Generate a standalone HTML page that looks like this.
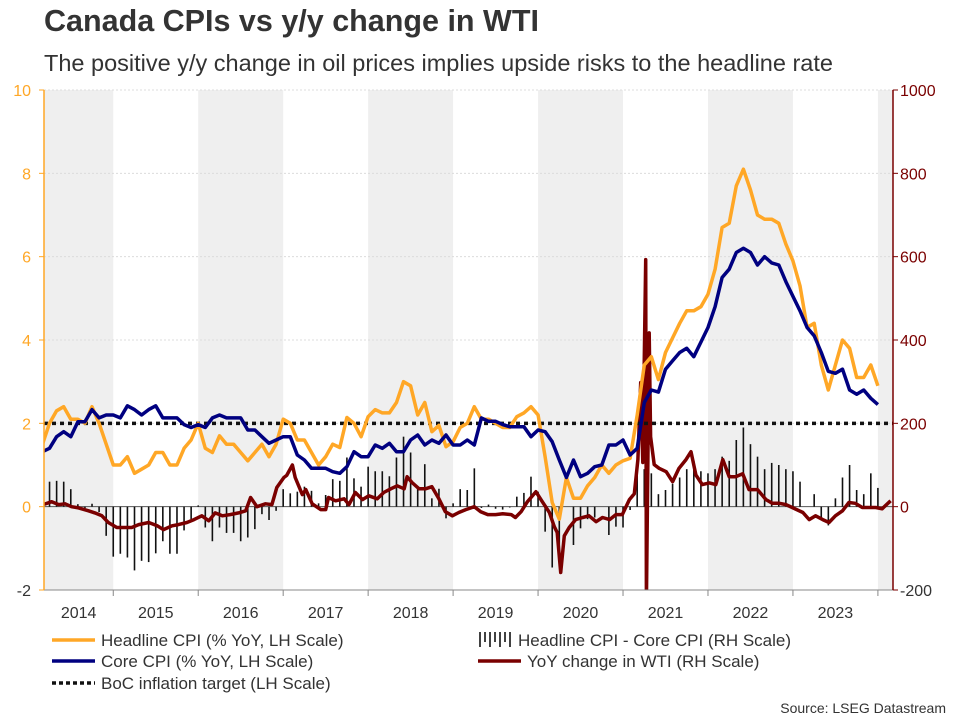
<!DOCTYPE html>
<html><head><meta charset="utf-8"><style>
body{margin:0;background:#fff;font-family:"Liberation Sans",sans-serif}
#wrap{position:relative;width:960px;height:720px;overflow:hidden}
.t{position:absolute;white-space:nowrap}
</style></head><body>
<div id="wrap">
<div class="t" style="left:44px;top:4px;font-size:30.5px;font-weight:bold;color:#333">Canada CPIs vs y/y change in WTI</div>
<div class="t" style="left:44px;top:50px;font-size:23.5px;color:#333">The positive y/y change in oil prices implies upside risks to the headline rate</div>
<svg id="chart" width="960" height="720" style="position:absolute;left:0;top:0"></svg>
<div class="t" style="right:14px;top:700px;font-size:14px;color:#333">Source: LSEG Datastream</div>
</div>
<script>
const years=["2014","2015","2016","2017","2018","2019","2020","2021","2022","2023"];
const leftTicks=[-2,0,2,4,6,8,10];
const rightTicks=[-200,0,200,400,600,800,1000];
const startMonth=2;
const headline=[1.5,2.0,2.3,2.4,2.1,2.1,2.0,2.4,2.0,1.5,
1.0,1.0,1.2,0.8,0.9,1.0,1.3,1.3,1.0,1.0,1.4,1.6,
2.0,1.4,1.3,1.7,1.5,1.5,1.3,1.1,1.3,1.5,1.2,1.5,
2.1,2.0,1.6,1.6,1.3,1.0,
1.2,1.5,1.42,2.14,2.0,1.68,2.16,2.33,2.25,2.25,2.5,3.0,2.9,2.2,2.5,1.8,1.95,1.44,1.56,1.9,2.0,2.4,2.1,2.1,2.0,1.9,1.9,2.16,2.25,2.4,2.2,1.2,0.1,-0.3,0.7,0.2,0.2,0.5,0.7,1.0,0.8,1.0,1.1,
1.16,2.2,3.4,3.6,3.05,3.7,4.05,4.4,4.7,4.7,4.8,5.1,5.7,6.7,6.8,7.7,8.1,7.6,7.0,6.9,6.9,6.8,6.3,5.9,5.3,4.3,4.4,3.4,2.8,3.4,4.0,3.8,3.1,3.1,3.4,2.9];
const core=[1.32,1.4,1.68,1.8,1.68,2.04,2.04,2.33,2.13,2.2,2.2,2.13,2.42,2.33,2.2,2.33,2.42,2.13,2.13,2.13,1.97,1.9,1.97,1.9,2.13,2.2,2.13,2.13,2.13,1.84,1.84,1.68,1.52,1.6,1.68,1.68,1.24,1.12,0.92,0.92,0.92,0.84,
0.8,0.96,1.32,1.2,1.2,1.48,1.4,1.52,1.32,1.32,1.6,1.72,1.48,1.6,1.52,1.72,1.48,1.48,1.6,1.48,2.13,2.05,2.05,1.97,1.92,1.92,1.92,1.68,1.84,1.8,1.56,1.12,0.7,1.12,0.72,0.8,0.96,1.0,1.48,1.48,1.6,
1.24,1.4,2.5,2.8,2.75,3.3,3.5,3.7,3.8,3.6,3.95,4.3,4.8,5.5,5.7,6.1,6.2,6.1,5.8,6.0,5.85,5.8,5.4,5.05,4.7,4.3,4.1,3.7,3.25,3.2,3.3,2.8,2.7,2.8,2.6,2.45];
const target=2;
const wtiMonth=[2.1,3.3,4.3,5.2,6.1,7.1,8.5,9.4,10.4,11.3,12.5,13.7,14.6,15.6,17.0,18.2,19.1,20.3,21.2,22.4,23.4,24.5,25.5,26.4,27.4,28.5,29.7,30.7,31.4,32.3,33.5,34.4,35.1,36.1,36.5,37.3,37.7,38.7,39.2,40.1,41.3,42.0,
42.4,43.4,44.6,45.3,46.2,47.2,48.1,49.3,50.2,51.2,52.1,53.1,53.5,54.2,55.2,56.1,57.0,58.0,58.9,59.9,60.8,61.8,63.0,63.9,64.9,66.0,67.0,68.2,68.8,69.6,70.5,71.7,72.6,73.6,74.3,74.7,75.2,75.7,76.4,77.3,78.3,79.2,80.2,81.1,82.1,83.0,83.9,84.9,
85.6,86.1,86.5,86.8,87.2,87.3,87.7,87.9,88.4,89.1,90.1,91.0,91.9,92.9,93.6,94.3,95.2,96.2,97.1,98.1,99.0,99.9,100.9,101.8,103.0,104.2,105.1,106.1,107.0,107.9,109.4,110.3,111.2,112.2,113.1,114.0,115.0,115.9,116.8,117.8,118.7,119.7,120.6,121.8];
const wtiValue=[5,12,5,7,0,-3,-10,-15,-22,-38,-50,-50,-50,-43,-38,-46,-55,-46,-43,-38,-31,-22,-34,-15,-22,-19,-15,-10,22,0,7,5,46,70,75,100,70,29,41,7,-7,-7,
22,14,19,5,34,17,26,19,34,43,50,43,72,58,43,43,48,19,-12,-22,-14,-7,0,-12,-19,-19,-17,-19,-26,-12,12,36,12,-14,-48,-62,-158,-70,-50,-31,-26,-22,-36,-26,-31,-19,-19,17,
31,113,298,106,593,-230,417,168,101,92,84,60,92,113,132,76,53,57,53,113,72,72,79,41,41,17,8,8,5,-2,-14,-31,-22,-31,-38,-22,-10,10,8,-2,-2,-2,-5,14];

const NS="http://www.w3.org/2000/svg";
const svg=document.getElementById('chart');
const PL=44,PR=893,PT=90,PB=590,X0=28.3,DX=7.08;
const xM=i=>X0+i*DX;
const yL=v=>PB-(v+2)/12*(PB-PT);
const yR=v=>PB-(v+200)/1200*(PB-PT);
function mk(tag,attrs,parent){const e=document.createElementNS(NS,tag);for(const k in attrs)e.setAttribute(k,attrs[k]);(parent||svg).appendChild(e);return e;}
const defs=mk('defs',{});
const cp=mk('clipPath',{id:'plotclip'},defs);
mk('rect',{x:PL,y:PT,width:PR-PL,height:PB-PT},cp);
years.concat(["2024"]).forEach((y,k)=>{
 if(k%2===0){const x1=Math.max(PL,xM(k*12)),x2=Math.min(PR,xM(k*12+12));
  const r=mk('rect',{x:x1,y:PT,width:x2-x1,height:PB-PT,fill:'#efefef'});
  
  }
});
leftTicks.forEach(v=>{if(v===-2)return;
 const g=mk('line',{x1:PL,x2:PR,y1:yL(v),y2:yL(v),stroke:v===0?'#555':'#dcdcdc','stroke-width':1,'stroke-dasharray':v===0?'':'2,2'});
 
 
});
const plot=mk('g',{'clip-path':'url(#plotclip)'});


headline.forEach((h,k)=>{const d=h-core[k];const x=xM(startMonth+k);
 const b=mk('line',{x1:x,x2:x,y1:yL(0),y2:yL(d),stroke:'#111','stroke-width':1.6},plot);
 
 
});
function path(xs,ys,color,w,name,parent){
 const d=xs.map((x,k)=>(k?'L':'M')+x.toFixed(1)+' '+ys[k].toFixed(1)).join('');
 const p=mk('path',{d:d,fill:'none',stroke:color,'stroke-width':w,'stroke-linejoin':'round'},parent);
 
 
 return p;}
path(wtiMonth.map(xM),wtiValue.map(yR),'#7a0000',3.5,'wti-line',plot);
const tl=mk('line',{x1:PL,x2:PR,y1:yL(target),y2:yL(target),stroke:'#111','stroke-width':3.5,'stroke-dasharray':'4,4'},plot);


path(headline.map((v,k)=>xM(startMonth+k)),headline.map(yL),'#ffa726',3.5,'headline-cpi-line',plot);
path(core.map((v,k)=>xM(startMonth+k)),core.map(yL),'#000080',3.5,'core-cpi-line',plot);
const ax=mk('line',{x1:PL,x2:PR,y1:PB,y2:PB,stroke:'#888','stroke-width':1});


const la=mk('line',{x1:PL,x2:PL,y1:PT,y2:PB,stroke:'#ffa726','stroke-width':1.5});


const ra=mk('line',{x1:PR,x2:PR,y1:PT,y2:PB,stroke:'#7a0000','stroke-width':1.5});


leftTicks.forEach(v=>{
 mk('line',{x1:PL-5,x2:PL,y1:yL(v),y2:yL(v),stroke:'#ffa726'});
 const t=mk('text',{x:31,y:yL(v)+6,'text-anchor':'end','font-size':16,fill:v===-2?'#333':'#ffa726'});
 t.textContent=v;
 
 
});
rightTicks.forEach(v=>{
 mk('line',{x1:PR,x2:PR+5,y1:yR(v),y2:yR(v),stroke:'#7a0000'});
 const t=mk('text',{x:900,y:yR(v)+6,'font-size':16,fill:v===-200?'#333':'#7a0000'});
 t.textContent=v;
 
 
});
years.forEach((y,k)=>{
 const xb=xM((k+1)*12);
 if(xb<PR)mk('line',{x1:xb,x2:xb,y1:PB,y2:PB+6,stroke:'#888'});
 const xc=(Math.max(PL,xM(k*12))+xM(k*12+12))/2;
 const t=mk('text',{x:xc,y:618,'text-anchor':'middle','font-size':16,fill:'#333'});
 t.textContent=y;
 
 
});
const legend=[
 {x:52,y:640,type:'line',c:'#ffa726',label:'Headline CPI (% YoY, LH Scale)'},
 {x:52,y:661,type:'line',c:'#000080',label:'Core CPI (% YoY, LH Scale)'},
 {x:52,y:683,type:'dot',c:'#111',label:'BoC inflation target (LH Scale)'},
 {x:478,y:640,type:'bars',c:'#111',label:'Headline CPI - Core CPI (RH Scale)'},
 {x:478,y:661,type:'line',c:'#7a0000',label:'YoY change in WTI (RH Scale)'}];
legend.forEach(e=>{
 const g=mk('g',{});
 
 
 if(e.type==='line')mk('line',{x1:e.x,x2:e.x+43,y1:e.y,y2:e.y,stroke:e.c,'stroke-width':3.5},g);
 if(e.type==='dot')mk('line',{x1:e.x,x2:e.x+43,y1:e.y,y2:e.y,stroke:e.c,'stroke-width':3.5,'stroke-dasharray':'4,3'},g);
 if(e.type==='bars'){for(let k=0;k<7;k++){mk('line',{x1:e.x+2+k*5,x2:e.x+2+k*5,y1:e.y-8,y2:e.y+(k%2?2:7),stroke:e.c,'stroke-width':1.6},g);}}
 const t=mk('text',{x:e.x+(e.type==='bars'?40:49),y:e.y+6,'font-size':17,fill:'#333'},g);
 t.textContent=e.label;
});
</script>
</body></html>
